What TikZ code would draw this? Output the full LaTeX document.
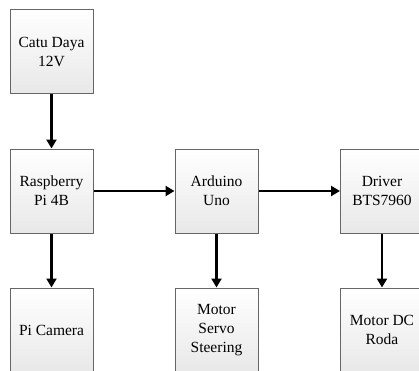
\documentclass[tikz,border=0pt]{standalone}
\usepackage{fontspec}
\setmainfont{Liberation Serif}
\usetikzlibrary{arrows.meta}
\tikzset{
  blockbox/.style={draw=black!60, line width=1pt, top color=white, bottom color=black!9,
    minimum width=83pt, minimum height=84pt, inner sep=0pt, align=center,
    font=\fontsize{15.5}{19}\selectfont},
  flow/.style={line width=2.8pt, -{Triangle[width=10pt,length=9pt]}}
}
\begin{document}
\begin{tikzpicture}[x=1pt,y=-1pt]
\useasboundingbox (0,0) rectangle (419,370);
\clip (0,0) rectangle (419,370);
\fill[white] (0,0) rectangle (419,370);
\node[blockbox] (catu) at (51.5,51.5) {Catu Daya\\12V};
\node[blockbox] (rpi) at (51.5,191) {Raspberry\\Pi 4B};
\node[blockbox] (ard) at (216.5,191) {Arduino\\Uno};
\node[blockbox] (drv) at (382,191) {Driver\\BTS7960};
\node[blockbox] (cam) at (51.5,330) {Pi Camera};
\node[blockbox] (servo) at (216.5,330) {Motor\\Servo\\Steering};
\node[blockbox] (dc) at (382,330) {Motor DC\\Roda};
\draw[flow] (catu) -- (rpi);
\draw[flow] (rpi) -- (ard);
\draw[flow] (ard) -- (drv);
\draw[flow] (rpi) -- (cam);
\draw[flow] (ard) -- (servo);
\draw[flow] (drv) -- (dc);
\end{tikzpicture}
\end{document}
